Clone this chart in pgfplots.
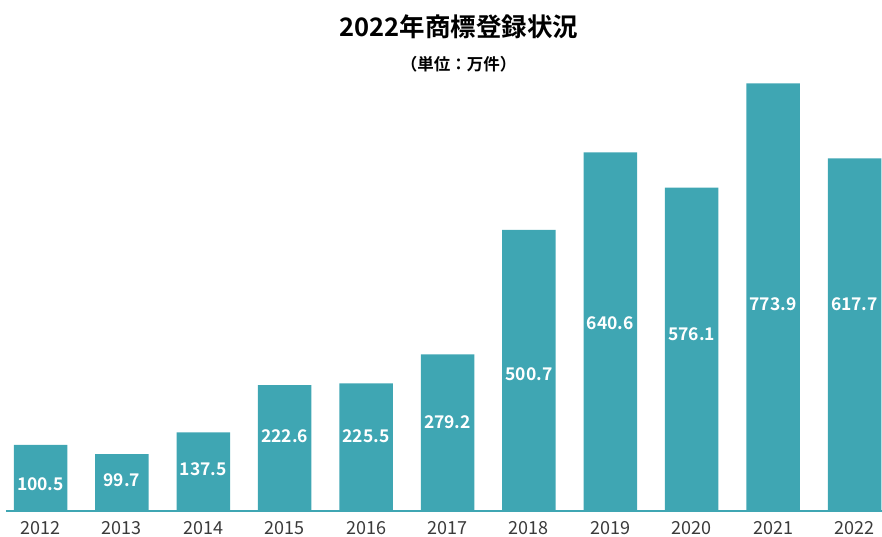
\documentclass[border=0pt]{standalone}
\usepackage{fontspec}
\setmainfont{Noto Sans CJK JP}[BoldFont={Noto Sans CJK JP Bold}]
\usepackage{pgfplots}
\usepackage{pgfplotstable}
\pgfplotsset{compat=1.18}
\definecolor{barteal}{HTML}{3FA6B3}
\definecolor{ticktext}{HTML}{3A3A3A}

% bar heights as drawn (value units)
\pgfplotstableread{
x h
0 117.0
1 100.9
2 139.6
3 224.1
4 227.1
5 278.9
6 500.9
7 639.6
8 576.4
9 762.9
10 628.9
}\bars
% value labels and where they sit
\pgfplotstableread{
x ly lab
0 46.4 100.5
1 54.5 99.7
2 74.1 137.5
3 132 222.6
4 132 225.5
5 157 279.2
6 243 500.7
7 334 640.6
8 315 576.1
9 369 773.9
10 369 617.7
}\labels

\begin{document}
\begin{tikzpicture}
\useasboundingbox (0,0) rectangle (882pt,536pt);
\begin{axis}[
  at={(6pt,25.5pt)}, anchor=south west,
  scale only axis,
  width=876pt, height=510.5pt,
  xmin=-0.424, xmax=10.338,
  ymin=0, ymax=911.6,
  axis x line*=bottom,
  hide y axis,
  x axis line style={draw=barteal, line width=2pt},
  xtick={0,...,10},
  xticklabels={2012,2013,2014,2015,2016,2017,2018,2019,2020,2021,2022},
  major tick length=0pt,
  xticklabel style={anchor=center, yshift=-18pt, font=\fontsize{18}{21}\selectfont, text=ticktext},
  clip=false,
]
\addplot[ybar, bar width=53.5pt, fill=barteal, draw=none] table[x=x, y=h] {\bars};
\addplot[draw=none, mark=none, nodes near coords, point meta=explicit symbolic,
  nodes near coords align={center},
  every node near coord/.append style={anchor=center, text=white, font=\bfseries\fontsize{17.5}{21}\selectfont}]
  table[x=x, y=ly, meta=lab] {\labels};
\end{axis}
\node[font=\bfseries\fontsize{25.5}{30}\selectfont, text=black] at (459pt,509pt) {2022年商標登録状況};
\node[font=\bfseries\fontsize{16.5}{20}\selectfont, text=black] at (458.5pt,472pt) {（単位：万件）};
\end{tikzpicture}
\end{document}
